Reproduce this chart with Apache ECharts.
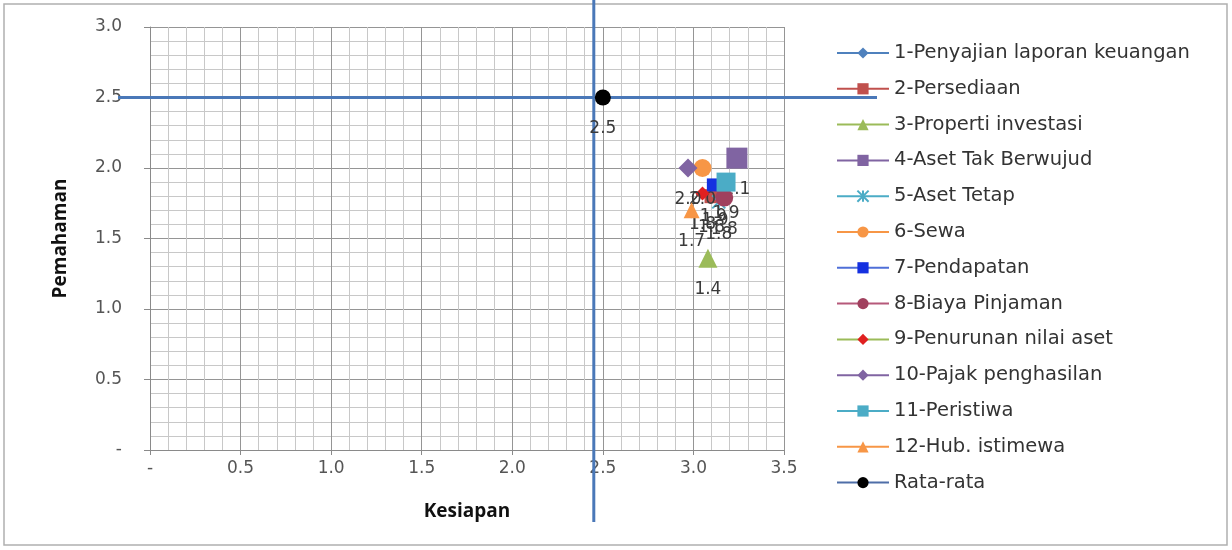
<!DOCTYPE html>
<html><head><meta charset="utf-8">
<script src="https://cdn.jsdelivr.net/npm/echarts@6/dist/echarts.min.js"></script>
<style>html,body{margin:0;padding:0;background:#fff}#c{width:1232px;height:550px}</style>
</head><body><div id="c"></div>
<script>
// ---- data ----
const seriesNames = ['1-Penyajian laporan keuangan','2-Persediaan','3-Properti investasi','4-Aset Tak Berwujud','5-Aset Tetap','6-Sewa','7-Pendapatan','8-Biaya Pinjaman','9-Penurunan nilai aset','10-Pajak penghasilan','11-Peristiwa','12-Hub. istimewa','Rata-rata'];
const kesiapan  = [3.12, 3.10, 3.08, 3.24, 3.14, 3.05, 3.11, 3.17, 3.05, 2.97, 3.18, 2.99, 2.50];
const pemahaman = [1.85, 1.80, 1.36, 2.07, 1.76, 2.00, 1.88, 1.79, 1.82, 2.00, 1.90, 1.70, 2.50];
const xTicks = ['-','0.5','1.0','1.5','2.0','2.5','3.0','3.5'];
const yTicks = ['-','0.5','1.0','1.5','2.0','2.5','3.0'];
const refX = 2.45, refY = 2.5;

// ---- styles ----
const styles = [
  {sym:'diamond', size:15, fill:'#4F81BD', line:'#4F81BD'},
  {sym:'rect', size:14, fill:'#C0504D', line:'#C0504D'},
  {sym:'triangle', size:19, fill:'#9BBB59', line:'#9BBB59'},
  {sym:'rect', size:21, fill:'#8064A2', line:'#8064A2'},
  {sym:'path://M0,0L10,10M10,0L0,10M5,0L5,10', size:13, fill:'#4BACC6', line:'#4BACC6'},
  {sym:'circle', size:18, fill:'#F79646', line:'#F79646'},
  {sym:'rect', size:13, fill:'#1530E0', line:'#4F6FD8'},
  {sym:'circle', size:18, fill:'#A0405E', line:'#B6597A'},
  {sym:'diamond', size:14, fill:'#E02020', line:'#9BBB59'},
  {sym:'diamond', size:19, fill:'#8064A2', line:'#8064A2'},
  {sym:'rect', size:19, fill:'#4BACC6', line:'#4BACC6'},
  {sym:'triangle', size:16, fill:'#F79646', line:'#F79646'},
  {sym:'circle', size:16, fill:'#000000', line:'#4F6EA8'}
];
const font = 'DejaVu Sans';
const chart = echarts.init(document.getElementById('c'));
const series = seriesNames.map((n,i)=>({
  name:n, type:'line', showSymbol:true, symbol:styles[i].sym, symbolSize:styles[i].size,
  data:[[kesiapan[i], pemahaman[i]]],
  itemStyle:{color:styles[i].fill, borderColor:styles[i].fill, borderWidth: i===4?2:0},
  lineStyle:{color:styles[i].line, width:2.5},
  label:{show:true, position:'bottom', distance: Math.max(4, 23 - styles[i].size/2), fontFamily:font, fontSize:17, color:'#3a3a3a',
    formatter:p=>p.value[1].toFixed(1)},
  emphasis:{disabled:true}, animation:false, z:2+i
}));
chart.setOption({
  animation:false,
  backgroundColor:'#fff',
  grid:{left:150, right:448, top:27, bottom:100},
  xAxis:{type:'value', min:0, max:3.5, interval:0.5,
    name:'Kesiapan', nameLocation:'middle', nameGap:52,
    nameTextStyle:{fontFamily:'Open Sans', fontSize:19, fontWeight:'bold', color:'#111'},
    axisLine:{show:true, onZero:false, lineStyle:{color:'#8a8a8a'}},
    axisTick:{show:true, length:5, lineStyle:{color:'#8a8a8a'}},
    axisLabel:{fontFamily:font, fontSize:17, color:'#555', margin:10, formatter:v=>xTicks[Math.round(v/0.5)]},
    splitLine:{show:true, lineStyle:{color:'#959595', width:1}},
    minorTick:{show:false, splitNumber:5},
    minorSplitLine:{show:true, lineStyle:{color:'#c8c8c8', width:1}}
  },
  yAxis:{type:'value', min:0, max:3, interval:0.5,
    name:'Pemahaman', nameLocation:'middle', nameGap:80, nameRotate:90,
    nameTextStyle:{fontFamily:'Open Sans', fontSize:19, fontWeight:'bold', color:'#111'},
    axisLine:{show:true, onZero:false, lineStyle:{color:'#8a8a8a'}},
    axisTick:{show:true, length:6, lineStyle:{color:'#8a8a8a'}},
    axisLabel:{fontFamily:font, fontSize:17, color:'#555', margin:28, formatter:v=>yTicks[Math.round(v/0.5)]},
    splitLine:{show:true, lineStyle:{color:'#959595', width:1}},
    minorTick:{show:false, splitNumber:5},
    minorSplitLine:{show:true, lineStyle:{color:'#c8c8c8', width:1}}
  },
  legend:{orient:'vertical', left:831, top:38, itemWidth:52, itemHeight:14, itemGap:15.8,
    textStyle:{fontFamily:font, fontSize:19.5, color:'#333'}, data:seriesNames},
  series:series
});
// reference cross lines at refX / refY, positioned through the axis scales
const px = chart.convertToPixel({xAxisIndex:0}, refX);
const py = chart.convertToPixel({yAxisIndex:0}, refY);
chart.setOption({graphic:[
  {type:'rect', shape:{x:4, y:4, width:1223, height:541}, style:{fill:null, stroke:'#b0b0b0', lineWidth:1.5}, silent:true, z:0},
  {type:'line', shape:{x1:px, y1:0, x2:px, y2:522}, style:{stroke:'#4A78B8', lineWidth:3}, z:1},
  {type:'line', shape:{x1:118, y1:py, x2:877, y2:py}, style:{stroke:'#4A78B8', lineWidth:3}, z:1}
]});
</script></body></html>
